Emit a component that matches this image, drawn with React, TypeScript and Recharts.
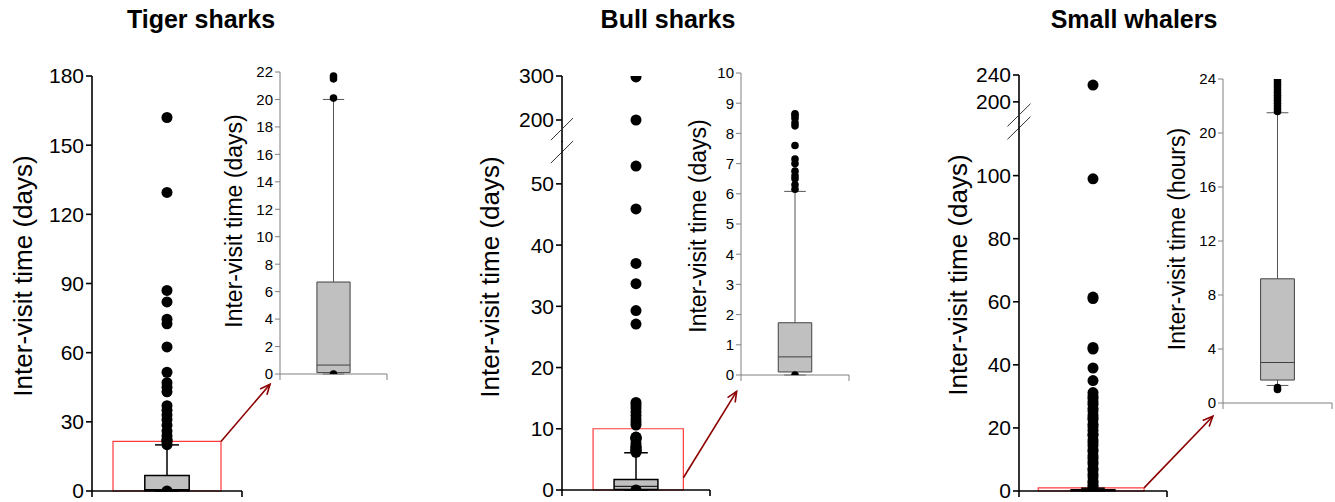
import React from 'react';
import { ComposedChart, XAxis, YAxis, Scatter, ReferenceArea, ReferenceLine } from 'recharts';

const FONT = '"Liberation Sans", Arial, Helvetica, sans-serif';

// ---------- text ----------
const panelTitles = ['Tiger sharks', 'Bull sharks', 'Small whalers'];
const mainLabel = 'Inter-visit time (days)';
const insetLabels = ['Inter-visit time (days)', 'Inter-visit time (days)', 'Inter-visit time (hours)'];

// ---------- Tiger sharks (days) ----------
const tigerBox = [0.1, 0.65, 6.7]; // q1, median, q3
const tigerWhisker = [0, 20];
const tigerOutliers = [0, 20.1, 21.5, 21.7, 22.5, 24, 26, 28.5, 31, 33, 35, 37, 43, 45, 47, 51.5, 62.5, 72.5, 74.5, 82, 87, 129.5, 162];
const tigerTicks = [0, 30, 60, 90, 120, 150, 180];
const tigerInsetOutliers = [0, 20.1, 21.5, 21.7];
const tigerInsetTicks = [0, 2, 4, 6, 8, 10, 12, 14, 16, 18, 20, 22];
const tigerZoomTop = 21.5;

// ---------- Bull sharks (days) ----------
const bullBox = [0.1, 0.6, 1.73];
const bullWhisker = [0, 6.08];
const bullOutliers = [0, 6.15, 6.3, 6.5, 6.6, 6.75, 7.0, 7.15, 7.6, 8.25, 8.35, 8.5, 8.6, 8.65, 10.6, 11.1, 11.6, 12.2, 12.8, 13.4, 13.9, 14.3, 27.1, 29.3, 33.7, 37, 45.9, 52.9, 200, 298];
const bullInsetOutliers = [0, 6.15, 6.3, 6.5, 6.6, 6.75, 7.0, 7.15, 7.6, 8.25, 8.35, 8.5, 8.6, 8.65];
const bullLowTicks = [0, 10, 20, 30, 40, 50];
const bullHighTicks = [200, 300];
const bullInsetTicks = [0, 1, 2, 3, 4, 5, 6, 7, 8, 9, 10];
const bullZoomTop = 10;

// ---------- Small whalers (inset in hours, main in days) ----------
const whalerBoxHours = [1.7, 3.0, 9.2];
const whalerWhiskerHours = [1.3, 21.5];
const whalerInsetOutliers = [1.0, 1.15, 21.6, 21.8, 22.0, 22.2, 22.4, 22.6, 22.8, 23.0, 23.2, 23.4, 23.6, 23.8, 24.0];
const whalerOutliers = [0.05, 1.2, 1.8, 2.6, 3.2, 4.4, 5.3, 6.5, 7.2, 8.6, 9.3, 10.4, 11.2, 12.5, 13.1, 14.4, 15.3, 16.2, 17.6, 18.1, 19.3, 20.4, 21.2, 22.6, 23.3, 24.1, 25.4, 26.2, 27.5, 28.3, 29.4, 30.1, 31.2, 35, 39, 45, 45.5, 61, 61.5, 99, 225];
const whalerLowTicks = [0, 20, 40, 60, 80, 100];
const whalerHighTicks = [200, 240];
const whalerInsetTicks = [0, 4, 8, 12, 16, 20, 24];
const whalerZoomTop = 1;

const toDays = (h: number) => h / 24;

// ---------- helpers ----------
const YW = 70;
const PAD = 40;

type Pt = { x: number; y: number };
const toPoints = (vals: number[], lo: number, hi: number): Pt[] =>
  vals.filter((v) => v >= lo && v <= hi).map((v) => ({ x: 0.5, y: v }));

type BoxOpts = { half: number; cap: number; stroke: string; wStroke: string; sw: number };

function boxMarks(key: string, q: number[], wh: number[], o: BoxOpts) {
  const [q1, med, q3] = q;
  const [lo, hi] = wh;
  const c = 0.5;
  return [
    <ReferenceLine key={key + 'w1'} segment={[{ x: c, y: q3 }, { x: c, y: hi }]} stroke={o.wStroke} strokeWidth={o.sw} ifOverflow="visible" />,
    <ReferenceLine key={key + 'w2'} segment={[{ x: c, y: lo }, { x: c, y: q1 }]} stroke={o.wStroke} strokeWidth={o.sw} ifOverflow="visible" />,
    <ReferenceLine key={key + 'c1'} segment={[{ x: c - o.cap, y: hi }, { x: c + o.cap, y: hi }]} stroke={o.wStroke} strokeWidth={o.sw} ifOverflow="visible" />,
    <ReferenceLine key={key + 'c2'} segment={[{ x: c - o.cap, y: lo }, { x: c + o.cap, y: lo }]} stroke={o.wStroke} strokeWidth={o.sw} ifOverflow="visible" />,
    <ReferenceArea key={key + 'b'} x1={c - o.half} x2={c + o.half} y1={q1} y2={q3} fill="#c0c0c0" fillOpacity={1} stroke={o.stroke} strokeWidth={o.sw} ifOverflow="visible" />,
    <ReferenceLine key={key + 'm'} segment={[{ x: c - o.half, y: med }, { x: c + o.half, y: med }]} stroke={o.stroke} strokeWidth={1} ifOverflow="visible" />,
  ];
}

const arrowShape = (p: any) => {
  const { x1, y1, x2, y2 } = p;
  const a = Math.atan2(y2 - y1, x2 - x1);
  const L = 11;
  const w = 0.42;
  const ax = x2 - L * Math.cos(a - w);
  const ay = y2 - L * Math.sin(a - w);
  const bx = x2 - L * Math.cos(a + w);
  const by = y2 - L * Math.sin(a + w);
  return (
    <g>
      <line x1={x1} y1={y1} x2={x2} y2={y2} stroke="#8b0000" strokeWidth={1.6} />
      <polyline points={`${ax},${ay} ${x2},${y2} ${bx},${by}`} fill="none" stroke="#8b0000" strokeWidth={1.6} />
    </g>
  );
};

function zoomMarks(key: string, x1: number, x2: number, top: number, from: Pt, to: Pt) {
  return [
    <ReferenceArea key={key + 'r'} x1={x1} x2={x2} y1={0} y2={top} fill="none" fillOpacity={0} stroke="#ff3b3b" strokeWidth={1.2} ifOverflow="visible" />,
    <ReferenceLine key={key + 'a'} segment={[from, to]} ifOverflow="visible" shape={arrowShape} />,
  ];
}

function breakMarks(key: string, ys: number[], dx: number, dy: number) {
  return ys.map((v, i) => (
    <ReferenceLine key={key + i} segment={[{ x: -dx, y: v - dy }, { x: dx, y: v + dy }]} stroke="#333" strokeWidth={1} ifOverflow="visible" />
  ));
}

type SegProps = {
  axisX: number;
  xEnd: number;
  top: number;
  bottom: number;
  domain: [number, number];
  ticks: number[];
  showX: boolean;
  inset?: boolean;
  values: number[];
  extra?: React.ReactNode[];
};

function Segment(p: SegProps) {
  const w = p.xEnd - p.axisX;
  const h = p.bottom - p.top;
  const xh = p.showX ? 8 : 0;
  const axisColor = p.inset ? '#808080' : '#000';
  const axisW = p.inset ? 1 : 1.6;
  const dotR = p.inset ? 3.8 : 5.5;
  const pts = toPoints(p.values, p.domain[0], p.domain[1]);
  return (
    <div style={{ position: 'absolute', left: p.axisX - YW, top: p.top - PAD }}>
      <ComposedChart width={YW + w + PAD} height={PAD + h + xh + PAD} margin={{ top: PAD, right: PAD, bottom: PAD, left: 0 }}>
        <XAxis
          type="number"
          dataKey="x"
          domain={[0, 1]}
          ticks={[0, 1]}
          hide={!p.showX}
          height={xh}
          tickFormatter={() => ''}
          tickSize={6}
          axisLine={{ stroke: axisColor, strokeWidth: axisW }}
          tickLine={{ stroke: axisColor, strokeWidth: axisW }}
          allowDataOverflow
        />
        <YAxis
          type="number"
          dataKey="y"
          domain={p.domain}
          ticks={p.ticks}
          interval={0}
          width={YW}
          allowDataOverflow
          tickSize={p.inset ? 5 : 6}
          tick={{ fontSize: p.inset ? 15 : 21, fill: '#000', fontFamily: FONT }}
          axisLine={{ stroke: axisColor, strokeWidth: axisW }}
          tickLine={{ stroke: axisColor, strokeWidth: axisW }}
        />
        {p.extra}
        <Scatter
          data={pts}
          fill="#000"
          isAnimationActive={false}
          shape={(s: any) => <circle cx={s.cx} cy={s.cy} r={dotR} fill="#000" />}
        />
      </ComposedChart>
    </div>
  );
}

function VLabel({ x, y, size, text }: { x: number; y: number; size: number; text: string }) {
  return (
    <div
      style={{
        position: 'absolute',
        left: x,
        top: y,
        transform: 'translate(-50%, -50%) rotate(-90deg)',
        whiteSpace: 'nowrap',
        fontSize: size,
        lineHeight: 1,
        color: '#000',
      }}
    >
      {text}
    </div>
  );
}

function Title({ x, text }: { x: number; text: string }) {
  return (
    <div style={{ position: 'absolute', left: x, top: 4, transform: 'translateX(-50%)', fontSize: 25, lineHeight: '30px', fontWeight: 700, whiteSpace: 'nowrap' }}>
      {text}
    </div>
  );
}

const mainBox: BoxOpts = { half: 0.148, cap: 0.08, stroke: '#000', wStroke: '#000', sw: 1.5 };
const insetBox: BoxOpts = { half: 0.155, cap: 0.1, stroke: '#404040', wStroke: '#555', sw: 1 };

export default function App() {
  const whalerBoxDays = whalerBoxHours.map(toDays);
  const whalerWhiskerDays = whalerWhiskerHours.map(toDays);

  return (
    <div style={{ position: 'absolute', left: 0, top: 0, width: 1335, height: 502, background: '#fff', fontFamily: FONT, overflow: 'hidden' }}>
      <style>{'.recharts-surface{overflow:visible}'}</style>

      <Title x={201} text={panelTitles[0]} />
      <Title x={668} text={panelTitles[1]} />
      <Title x={1134} text={panelTitles[2]} />

      {/* Tiger sharks */}
      <VLabel x={23} y={276} size={26} text={mainLabel} />
      <Segment
        axisX={92}
        xEnd={242}
        top={76}
        bottom={491}
        domain={[0, 180]}
        ticks={tigerTicks}
        showX
        values={tigerOutliers}
        extra={[
          ...zoomMarks('tz', 0.14, 0.86, tigerZoomTop, { x: 0.86, y: tigerZoomTop }, { x: 1.187, y: 46.3 }),
          ...boxMarks('tb', tigerBox, tigerWhisker, mainBox),
        ]}
      />
      <VLabel x={234} y={221} size={23} text={insetLabels[0]} />
      <Segment axisX={280} xEnd={387} top={72} bottom={374} domain={[0, 22]} ticks={tigerInsetTicks} showX inset values={tigerInsetOutliers} extra={boxMarks('ti', tigerBox, tigerWhisker, insetBox)} />

      {/* Bull sharks */}
      <VLabel x={490} y={277} size={26} text={mainLabel} />
      <Segment axisX={562} xEnd={710} top={76} bottom={142} domain={[150, 300]} ticks={bullHighTicks} showX={false} values={bullOutliers} />
      <Segment
        axisX={562}
        xEnd={710}
        top={141}
        bottom={490}
        domain={[0, 57]}
        ticks={bullLowTicks}
        showX
        values={bullOutliers}
        extra={[
          ...breakMarks('bk', [58.95, 55.2], 0.075, 1.8),
          ...zoomMarks('bz', 0.21, 0.82, bullZoomTop, { x: 0.82, y: 2.0 }, { x: 1.18, y: 16.1 }),
          ...boxMarks('bb', bullBox, bullWhisker, mainBox),
        ]}
      />
      <VLabel x={698} y={226} size={23} text={insetLabels[1]} />
      <Segment axisX={741} xEnd={849} top={73} bottom={375} domain={[0, 10]} ticks={bullInsetTicks} showX inset values={bullInsetOutliers} extra={boxMarks('bi', bullBox, bullWhisker, insetBox)} />

      {/* Small whalers */}
      <VLabel x={958} y={275} size={26} text={mainLabel} />
      <Segment axisX={1019} xEnd={1167} top={75} bottom={122} domain={[170, 240]} ticks={whalerHighTicks} showX={false} values={whalerOutliers} />
      <Segment
        axisX={1019}
        xEnd={1167}
        top={122}
        bottom={491}
        domain={[0, 117]}
        ticks={whalerLowTicks}
        showX
        values={whalerOutliers}
        extra={[
          ...breakMarks('wk', [119.2, 115.1], 0.078, 3.6),
          ...zoomMarks('wz', 0.13, 0.845, whalerZoomTop, { x: 0.845, y: whalerZoomTop }, { x: 1.31, y: 23.7 }),
          ...boxMarks('wb', whalerBoxDays, whalerWhiskerDays, mainBox),
        ]}
      />
      <VLabel x={1177} y={239} size={23} text={insetLabels[2]} />
      <Segment axisX={1223} xEnd={1332} top={79} bottom={403} domain={[0, 24]} ticks={whalerInsetTicks} showX inset values={whalerInsetOutliers} extra={boxMarks('wi', whalerBoxHours, whalerWhiskerHours, insetBox)} />
    </div>
  );
}
